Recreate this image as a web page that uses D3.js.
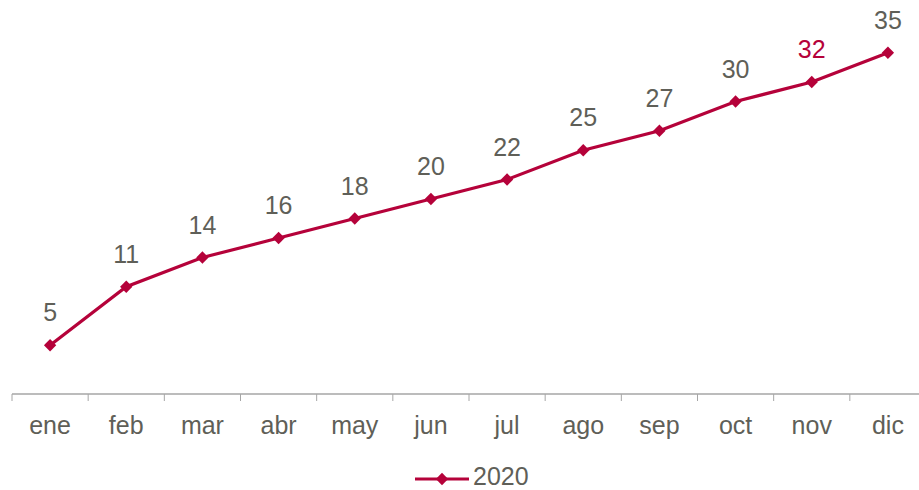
<!DOCTYPE html>
<html>
<head>
<meta charset="utf-8">
<script src="https://d3js.org/d3.v7.min.js"></script>
<style>
  body { margin: 0; background: #fff; }
  svg text { font-family: "Liberation Sans", Arial, sans-serif; }
</style>
</head>
<body>
<div id="chart"></div>
<script>
// data
var months = ["ene", "feb", "mar", "abr", "may", "jun", "jul", "ago", "sep", "oct", "nov", "dic"];
var values2020 = [5, 11, 14, 16, 18, 20, 22, 25, 27, 30, 32, 35];
var seriesName = "2020";

var W = 919, H = 490;
var red = "#b5023a", grey = "#5f5f58";

var svg = d3.select("#chart").append("svg")
    .attr("width", W)
    .attr("height", H);

var x = d3.scaleBand().domain(months).range([12, 926]);
var y = d3.scaleLinear().domain([0, 40]).range([394, 4]);

var data = months.map(function(m, i) { return { m: m, v: values2020[i] }; });

// x axis: baseline + tick marks at band edges
var g = svg.append("g");
g.append("line")
    .attr("x1", x.range()[0]).attr("x2", x.range()[1])
    .attr("y1", y(0)).attr("y2", y(0))
    .attr("stroke", "#a6a6a6").attr("stroke-width", 1.5);

var edges = months.map(function(m) { return x(m); });
edges.push(x.range()[1]);
g.selectAll(".tick")
    .data(edges)
    .enter().append("line")
    .attr("x1", function(d) { return d; })
    .attr("x2", function(d) { return d; })
    .attr("y1", y(0))
    .attr("y2", y(0) + 7)
    .attr("stroke", "#a6a6a6").attr("stroke-width", 1);

g.selectAll(".xlab")
    .data(months)
    .enter().append("text")
    .attr("x", function(d) { return x(d) + x.bandwidth() / 2; })
    .attr("y", 434)
    .attr("text-anchor", "middle")
    .attr("fill", grey)
    .style("font-size", "25px")
    .text(function(d) { return d; });

var cx = function(d) { return x(d.m) + x.bandwidth() / 2; };

var line = d3.line()
    .x(cx)
    .y(function(d) { return y(d.v); });

svg.append("path")
    .datum(data)
    .attr("d", line)
    .attr("fill", "none")
    .attr("stroke", red)
    .attr("stroke-width", 3.2);

var marker = d3.symbol().type(d3.symbolSquare).size(76);

svg.selectAll(".pt")
    .data(data)
    .enter().append("path")
    .attr("d", marker)
    .attr("transform", function(d) { return "translate(" + cx(d) + "," + y(d.v) + ") rotate(45)"; })
    .attr("fill", red);

svg.selectAll(".vlab")
    .data(data)
    .enter().append("text")
    .attr("x", cx)
    .attr("y", function(d) { return y(d.v) - 24; })
    .attr("text-anchor", "middle")
    .attr("fill", function(d) { return d.m === "nov" ? red : grey; })
    .style("font-size", "25px")
    .text(function(d) { return d.v; });

// legend
var lg = svg.append("g").attr("transform", "translate(415,479)");
lg.append("line")
    .attr("x1", 0).attr("x2", 54)
    .attr("y1", 0).attr("y2", 0)
    .attr("stroke", red).attr("stroke-width", 3.2);
lg.append("path")
    .attr("d", marker)
    .attr("transform", "translate(27,0) rotate(45)")
    .attr("fill", red);
lg.append("text")
    .attr("x", 58)
    .attr("y", 6)
    .attr("fill", grey)
    .style("font-size", "25px")
    .text(seriesName);
</script>
</body>
</html>
